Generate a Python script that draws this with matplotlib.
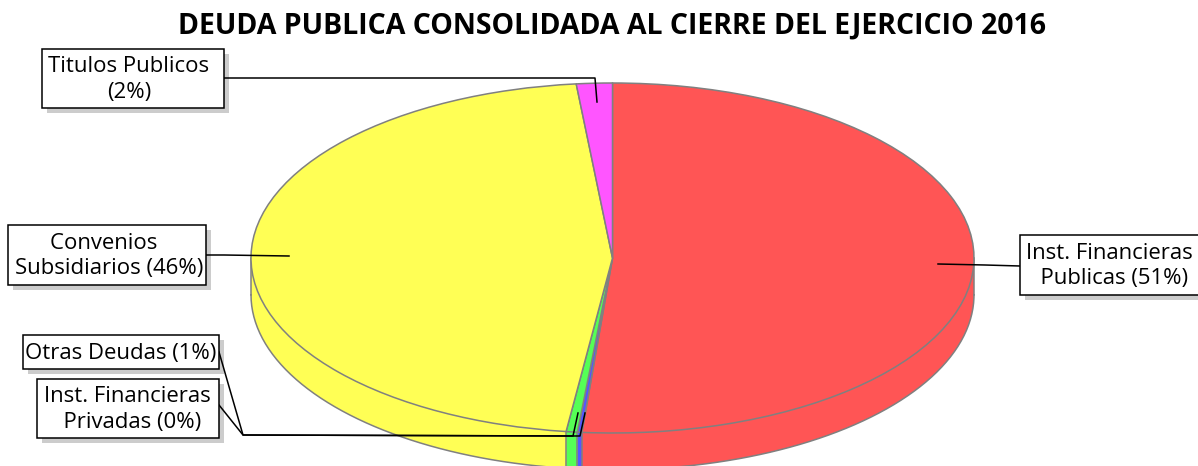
import numpy as np
import matplotlib
matplotlib.use('Agg')
import matplotlib.pyplot as plt
from matplotlib.patches import Rectangle

titulo = 'DEUDA PUBLICA CONSOLIDADA AL CIERRE DEL EJERCICIO 2016'
categorias = ['Inst. Financieras Publicas', 'Inst. Financieras Privadas', 'Otras Deudas',
              'Convenios Subsidiarios', 'Titulos Publicos']
valores = [51.35, 0.2, 0.5, 46.35, 1.6]
colores = ['#FF5555', '#5555FF', '#55FF55', '#FFFF55', '#FF55FF']
textos = ['Inst. Financieras\n  Publicas (51%)', 'Inst. Financieras\n  Privadas (0%)', 'Otras Deudas (1%)',
          'Convenios  \nSubsidiarios (46%)', 'Titulos Publicos\n(2%)']

W, H = 1198, 466
GRIS = '#808080'
FUENTE = 'Open Sans'
fig = plt.figure(figsize=(W / 100, H / 100), dpi=100, facecolor='white')

# ejes del tamano de la elipse superior, el pie queda aplastado
ax = fig.add_axes([251 / W, (H - 433) / H, 723 / W, 350 / H])
prof = 0.21  # grosor del pie
pasos = 40

for i in range(pasos, 0, -1):
    ax.pie(valores, colors=colores, startangle=90, counterclock=False, radius=1,
           center=(0, -prof * i / pasos), wedgeprops={'linewidth': 0})

# bordes de la parte de abajo
t = np.linspace(np.pi, 2 * np.pi, 200)
ax.plot(np.cos(t), np.sin(t) - prof, color=GRIS, lw=1.1, clip_on=False, zorder=3)
ax.plot([-1, -1], [0, -prof], color=GRIS, lw=1.1, clip_on=False, zorder=3)
ax.plot([1, 1], [0, -prof], color=GRIS, lw=1.1, clip_on=False, zorder=3)
acum = np.cumsum(valores) / sum(valores) * 2 * np.pi
for a in acum:
    x, y = np.sin(a), np.cos(a)
    if y < 0:
        ax.plot([x, x], [y, y - prof], color=GRIS, lw=1.1, clip_on=False, zorder=3)

w, _ = ax.pie(valores, colors=colores, startangle=90, counterclock=False, radius=1,
              wedgeprops={'linewidth': 1.1, 'edgecolor': GRIS})
for p in w:
    p.set_zorder(4)
ax.set_aspect('auto')
ax.set_xlim(-1, 1)
ax.set_ylim(-1, 1)

# capa en pixeles para etiquetas y lineas
cap = fig.add_axes([0, 0, 1, 1], facecolor='none')
cap.set_xlim(0, W)
cap.set_ylim(H, 0)
cap.axis('off')

cajas = [(1020, 235, 190, 60), (37, 379, 182, 59), (23, 335, 196, 34),
         (8, 225, 198, 60), (42, 49, 182, 59)]
centros = [1109, 127, 121, 109, 129]
for (x, y, an, al), cx, txt in zip(cajas, centros, textos):
    cap.add_patch(Rectangle((x + 5, y + 5), an, al, fc='#CCCCCC', ec='none', zorder=5))
    cap.add_patch(Rectangle((x, y), an, al, fc='white', ec='black', lw=1.1, zorder=7))
    cap.text(cx, y + al / 2 + 1, txt, ha='center', va='center', fontsize=15.9, linespacing=1.27,
             color='black', zorder=8, family=FUENTE)

lineas = [
    ([1020, 985, 938], [266, 265, 264]),
    ([219, 243, 573, 578], [352, 435, 436, 413]),
    ([219, 243, 580, 585], [405, 435, 436, 413]),
    ([206, 224, 289], [255, 255, 256]),
    ([224, 242, 595, 597], [78, 78, 78, 102]),
]
for xs, ys in lineas:
    cap.plot(xs, ys, color='black', lw=1.1, zorder=6)

cap.text(612.5, 26, titulo, ha='center', va='center', fontsize=20.5, fontweight='bold',
         color='black', family=FUENTE)

fig.savefig('out.png', dpi=100)
